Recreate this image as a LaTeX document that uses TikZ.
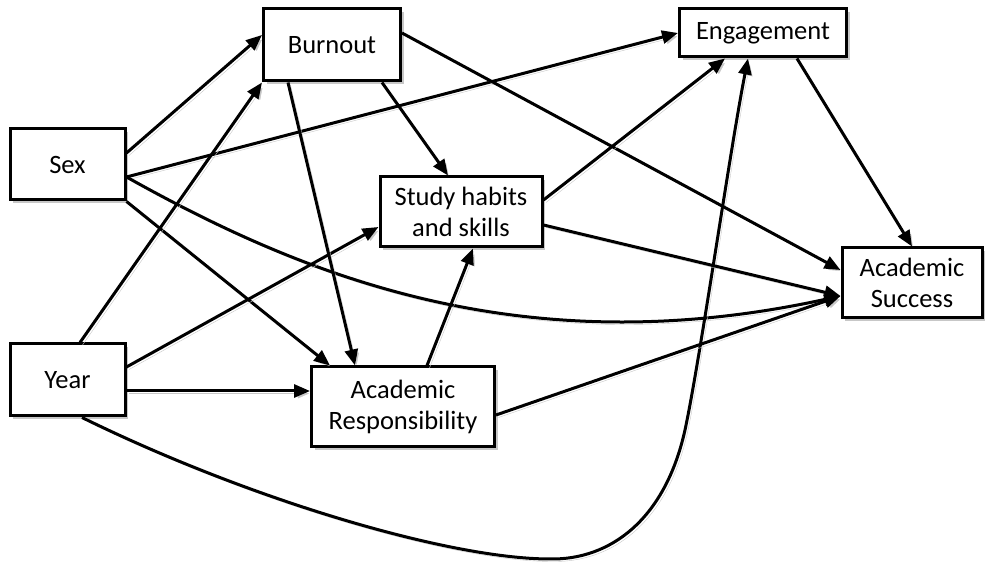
\documentclass[tikz,border=0pt]{standalone}
\usepackage{fontspec}
\setmainfont{Carlito}
\usetikzlibrary{arrows.meta,shadows}
\begin{document}
\begin{tikzpicture}[x=1pt,y=1pt,
  box/.style={draw,line width=3pt,fill=white,align=center,inner sep=0pt,
    font=\fontsize{26.5}{31}\selectfont,
    drop shadow={shadow xshift=3pt,shadow yshift=-3pt,fill=black!22,opacity=1}},
  conn/.style={line width=3pt,-{Triangle[length=16pt,width=13pt]},
    preaction={draw=black!22,transform canvas={shift={(2.5pt,-2.5pt)}}}}]
\useasboundingbox (0,0) rectangle (996,562);
\node[box,minimum width=115pt,minimum height=71pt] (sex) at (67.5,397.5) {Sex};
\node[box,minimum width=115pt,minimum height=72pt] (year) at (67.5,182) {Year};
\node[box,minimum width=137pt,minimum height=72pt] (burnout) at (332,517) {Burnout};
\node[box,minimum width=167pt,minimum height=48pt] (eng) at (763,529) {Engagement};
\node[box,minimum width=162pt,minimum height=70pt] (study) at (461,350) {Study habits\\and skills};
\node[box,minimum width=183pt,minimum height=80pt] (ar) at (403,155) {Academic\\Responsibility};
\node[box,minimum width=140pt,minimum height=70pt] (as) at (912,279) {Academic\\Success};
% Sex
\draw[conn] ([yshift=11.5pt]sex.east) -- ([yshift=10pt]burnout.west);
\draw[conn] ([yshift=-12.5pt]sex.east) -- (eng.west);
\draw[conn] ([yshift=-12.5pt]sex.east) .. controls (300,288) and (520,196) .. ([yshift=-13pt]as.west);
\draw[conn] (sex.south east) -- ([xshift=20pt]ar.north west);
% Year
\draw[conn] ([xshift=12.5pt]year.north) -- (burnout.south west);
\draw[conn] ([yshift=13pt]year.east) -- ([yshift=-15pt]study.west);
\draw[conn] ([yshift=-11pt]year.east) -- ([yshift=16pt]ar.west);
\draw[conn] ([xshift=14.5pt]year.south) .. controls (250,62) and (450,3) .. (550,3)
  .. controls (610,2) and (665,42) .. (685,132)
  .. controls (700,202) and (730,412) .. ([xshift=-15pt]eng.south);
% Burnout
\draw[conn] ([xshift=50pt]burnout.south) -- ([xshift=-13pt]study.north);
\draw[conn] ([xshift=-44pt]burnout.south) -- ([xshift=-48pt]ar.north);
\draw[conn] ([yshift=12pt]burnout.east) -- ([yshift=13pt]as.west);
% Study
\draw[conn] ([yshift=-13pt]study.east) -- ([yshift=-13pt]as.west);
\draw[conn] ([yshift=12pt]study.east) -- ([xshift=-38pt]eng.south);
% AR
\draw[conn] ([xshift=24pt]ar.north) -- ([xshift=12pt]study.south);
\draw[conn] ([yshift=-8pt]ar.east) -- ([yshift=-13pt]as.west);
% Engagement
\draw[conn] ([xshift=34pt]eng.south) -- (as.north);
\end{tikzpicture}
\end{document}
